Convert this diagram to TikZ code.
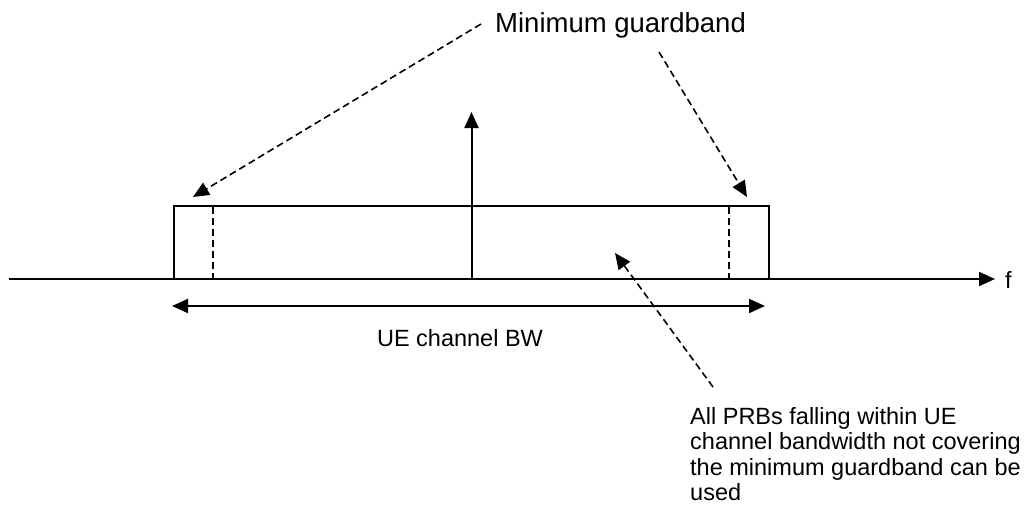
\documentclass[tikz,border=0pt]{standalone}
\usepackage{fontspec}
\setmainfont{Liberation Sans}
\usepackage{tikz}
\usetikzlibrary{arrows.meta, positioning, calc}

\begin{document}
\begin{tikzpicture}[x=1pt, y=-1pt,
    line/.style={line width=2pt},
    tip/.style={-{Triangle[length=16pt, width=14pt]}},
    guard/.style={line width=1.6pt, dash pattern=on 7pt off 4pt},
    lbl/.style={inner sep=0pt, font=\fontsize{23.5}{25.4}\selectfont}]
  \useasboundingbox (0,0) rectangle (1028,506);

  % frequency axis
  \coordinate (axisstart) at (9,279);
  \coordinate (axisend) at (995,279);
  \node[lbl, anchor=west] (flabel) at (1005,280) {f};
  \draw[line, tip] (axisstart) -- (axisend);

  % channel
  \node[draw, line, inner sep=0pt, outer sep=0pt, minimum width=595pt, minimum height=73pt,
        anchor=south west] (chan) at (174,279) {};
  \draw[guard] (213,207) -- (213,279);
  \draw[guard] (729,207) -- (729,279);
  \coordinate (peak) at (471.5,112);
  \draw[line, tip] (chan.south) -- (peak);

  % bandwidth
  \coordinate (bwleft) at (172,306);
  \coordinate (bwright) at (765,306);
  \draw[line, {Triangle[length=16pt, width=14pt]}-{Triangle[length=16pt, width=14pt]}] (bwleft) -- (bwright);
  \node[lbl] (bwlabel) at (460,338) {UE channel BW};

  % guardband
  \node[lbl, anchor=base west, font=\fontsize{27.5}{30}\selectfont] (guardlabel) at (495,32) {Minimum guardband};
  \coordinate (gstartl) at (481,24);
  \coordinate (gstartr) at (659,52);
  \coordinate (gtipl) at (193,197);
  \coordinate (gtipr) at (747,197);
  \draw[guard, tip] (gstartl) -- (gtipl);
  \draw[guard, tip] (gstartr) -- (gtipr);

  % usable PRBs
  \node[lbl, anchor=north west, align=left] (prblabel) at (690,407)
    {All PRBs falling within UE\\channel bandwidth not covering\\the minimum guardband can be\\used};
  \coordinate (pstart) at (713,387);
  \coordinate (ptip) at (615,253);
  \draw[guard, tip] (pstart) -- (ptip);
\end{tikzpicture}
\end{document}
